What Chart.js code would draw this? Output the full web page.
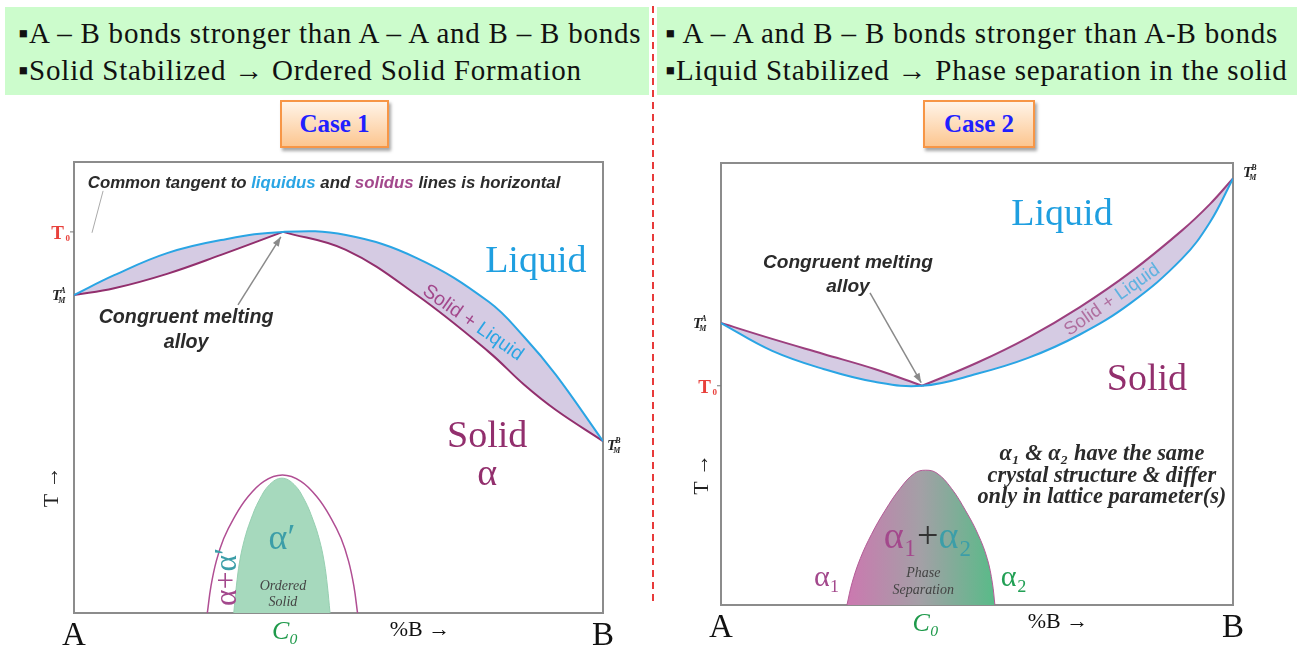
<!DOCTYPE html>
<html>
<head>
<meta charset="utf-8">
<script src="https://cdn.jsdelivr.net/npm/chart.js@4.4.1/dist/chart.umd.min.js"></script>
<style>
  body { margin: 0; background: #fff; font-family: "Liberation Serif", serif; }
  #page { position: relative; width: 1303px; height: 652px; overflow: hidden; }
  .band { position: absolute; top: 7px; height: 88px; background: #ccfccc; }
  .line { position: absolute; font-family: "Liberation Serif", serif; font-size: 29px; line-height: 29px; white-space: nowrap; color: #111; }
  .case { position: absolute; top: 100px; height: 44px; border: 2px solid #f79646; background: linear-gradient(#fff4e8, #fcc690);
          box-shadow: 2px 3px 3px rgba(0,0,0,.35); color: #2020ff; font-family: "Liberation Serif", serif;
          font-weight: bold; font-size: 25px; text-align: center; line-height: 44px; }
  .divider { position: absolute; left: 652px; top: 6px; width: 2px; height: 596px;
             background: repeating-linear-gradient(to bottom, #e83a3a 0 7px, transparent 7px 12px); }
  canvas { position: absolute; }
</style>
</head>
<body>
<div id="page">
  <div class="band" style="left:5px;width:644px"></div>
  <div class="band" style="left:657px;width:640px"></div>
  <div class="line" data-w="623" style="left:18px;top:19px">▪A – B bonds stronger than A – A and B – B bonds</div>
  <div class="line" data-w="564" style="left:18px;top:56px">▪Solid Stabilized → Ordered Solid Formation</div>
  <div class="line" data-w="613" style="left:665px;top:19px">▪ A – A and B – B bonds stronger than A-B bonds</div>
  <div class="line" data-w="623" style="left:665px;top:56px">▪Liquid Stabilized → Phase separation in the solid</div>
  <div class="divider"></div>
  <div class="case" style="left:280px;width:105px">Case 1</div>
  <div class="case" style="left:923px;width:108px">Case 2</div>
  <canvas id="c1" width="650" height="502" style="left:0;top:150px"></canvas>
  <canvas id="c2" width="648" height="502" style="left:655px;top:150px"></canvas>
</div>
<script>
// ---- case 1 : A-B bonds stronger, maximum in liquidus/solidus
const comp1 = [0, 7.6, 17.6, 27.8, 39.5, 51.4, 64.8, 78.4, 85.1, 91.1, 100];
const liquidus1 = [70.5, 74.9, 79.8, 82.7, 84.5, 83.8, 78.7, 69.0, 61.2, 52.8, 38.1];
const compL1 = [0, 7.6, 17.6, 27.8, 39.5];
const solidusL1 = [70.5, 72.0, 75.2, 79.4, 84.5];
const compR1 = [39.5, 51.4, 64.8, 78.4, 85.1, 91.1, 100];
const solidusR1 = [84.5, 80.5, 70.5, 57.9, 50.6, 45.0, 38.1];
const orderOuterX = [25.2, 25.9, 26.9, 28.3, 30.2, 32.7, 35.9, 39.4, 42.9, 46.1, 48.6, 50.5, 51.9, 52.9, 53.6];
const orderOuterT = [0, 6, 11.5, 16.5, 21, 25.5, 29.2, 30.6, 29.2, 25.5, 21, 16.5, 11.5, 6, 0];
const orderInnerX = [30.2, 30.7, 31.3, 32.2, 33.4, 35.0, 37.0, 39.3, 41.6, 43.6, 45.2, 46.4, 47.3, 47.9, 48.4];
const orderInnerT = [0, 6, 11.3, 16.2, 20.6, 25, 28.5, 29.9, 28.5, 25, 20.6, 16.2, 11.3, 6, 0];

// ---- case 2 : A-A, B-B bonds stronger, minimum + miscibility gap
const comp2 = [0, 10, 20, 30, 39.3, 50, 60, 70.1, 80, 90, 95.5, 100];
const lower2 = [63.8, 57.5, 53.4, 50.5, 49.6, 52.3, 55.9, 61.2, 68.3, 78.3, 86.6, 96.5];
const compL2 = [0, 10, 20, 30, 39.3];
const upperL2 = [63.8, 60.2, 56.8, 53.4, 49.6];
const compR2 = [39.3, 50, 60, 70.1, 80, 90, 95.5, 100];
const upperR2 = [49.6, 54.8, 60.5, 67.4, 75.3, 84.7, 90.7, 96.5];
const gapX = [24.6, 25.6, 27.2, 29.4, 32.0, 35.0, 37.8, 40.0, 42.2, 45.0, 47.8, 50.2, 52.0, 53.0, 53.5];
const gapT = [0, 5, 10.5, 16, 21.3, 26.4, 29.8, 30.5, 29.8, 26.4, 21.3, 16, 10.5, 5, 0];

// x axis ticks
const xTicks1 = [0, 39.9, 65.4, 100];
const xTicks2 = [0, 40.0, 65.8, 100];
const xTickLabels = ['A', 'C₀', '%B →', 'B'];

const SERIF = '"Liberation Serif", serif';
const SANS = '"Liberation Sans", sans-serif';
const BLUE = '#2aa5e4';
const PURPLE = '#922f6d';
const LAV = 'rgba(206,194,222,0.85)';
const INK = '#2b2b2b';

// stretch the header lines to the widths of the picture
document.querySelectorAll('.line').forEach(el => {
    const w = +el.dataset.w;
    const n = el.textContent.length;
    el.style.letterSpacing = ((w - el.scrollWidth) / n) + 'px';
});

function pts(xs, ys) { return xs.map((x, i) => ({ x: x, y: ys[i] })); }

function text(ctx, s, x, y, font, color, align) {
    ctx.font = font;
    ctx.fillStyle = color;
    ctx.textAlign = align || 'center';
    ctx.textBaseline = 'middle';
    ctx.fillText(s, x, y);
}

// pieces of text in different colours, font size chosen to fill "width"
function rich(ctx, parts, x, y, style, family, width, align) {
    ctx.font = style + ' 20px ' + family;
    const w20 = parts.reduce((s, p) => s + ctx.measureText(p[0]).width, 0);
    const size = 20 * width / w20;
    ctx.font = style + ' ' + size + 'px ' + family;
    let cx = align === 'left' ? x : x - width / 2;
    ctx.textAlign = 'left';
    ctx.textBaseline = 'middle';
    parts.forEach(p => {
        ctx.fillStyle = p[1];
        ctx.fillText(p[0], cx, y);
        cx += ctx.measureText(p[0]).width;
    });
    return size;
}

function arrow(ctx, a, b) {
    ctx.strokeStyle = '#8a8a8a';
    ctx.fillStyle = '#8a8a8a';
    ctx.lineWidth = 1.5;
    ctx.beginPath(); ctx.moveTo(a[0], a[1]); ctx.lineTo(b[0], b[1]); ctx.stroke();
    const ang = Math.atan2(b[1] - a[1], b[0] - a[0]);
    ctx.beginPath();
    ctx.moveTo(b[0], b[1]);
    ctx.lineTo(b[0] - 10 * Math.cos(ang - 0.35), b[1] - 10 * Math.sin(ang - 0.35));
    ctx.lineTo(b[0] - 10 * Math.cos(ang + 0.35), b[1] - 10 * Math.sin(ang + 0.35));
    ctx.closePath(); ctx.fill();
}

function tm(ctx, sup, x, y) {
    ctx.fillStyle = '#222';
    ctx.textAlign = 'left';
    ctx.textBaseline = 'alphabetic';
    ctx.font = 'italic bold 15px ' + SERIF;
    ctx.fillText('T', x, y + 5);
    const w = ctx.measureText('T').width;
    ctx.font = 'italic bold 8px ' + SERIF;
    ctx.fillText(sup, x + w - 1, y - 2);
    ctx.fillText('M', x + w - 3, y + 8);
}

function t0(ctx, x, y) {
    ctx.strokeStyle = '#777'; ctx.lineWidth = 1;
    ctx.beginPath(); ctx.moveTo(x, y); ctx.lineTo(x - 4, y); ctx.stroke();
    ctx.fillStyle = '#e8413c';
    ctx.textAlign = 'right'; ctx.textBaseline = 'alphabetic';
    ctx.font = 'bold 9px ' + SERIF;
    ctx.fillText('0', x - 4, y + 9);
    ctx.font = 'bold 19px ' + SERIF;
    ctx.fillText('T', x - 10, y + 7);
}

function tAxis(ctx, x, y) {
    ctx.save();
    ctx.translate(x, y);
    ctx.rotate(-Math.PI / 2);
    text(ctx, 'T →', 0, 0, '22px ' + SERIF, '#222');
    ctx.restore();
}

const notes = {
    id: 'notes',
    beforeDatasetsDraw(chart) {
        const a = chart.chartArea, ctx = chart.ctx;
        ctx.save();
        ctx.strokeStyle = '#8c8c8c';
        ctx.lineWidth = 2;
        ctx.strokeRect(a.left, a.top, a.right - a.left, a.bottom - a.top);
        ctx.restore();
    },
    afterDatasetsDraw(chart, args, opts) {
        const xs = chart.scales.x, ys = chart.scales.y, ctx = chart.ctx;
        const P = (x, y) => [xs.getPixelForValue(x), ys.getPixelForValue(y)];
        ctx.save();
        opts.draw(ctx, P, chart.chartArea);
        ctx.restore();
    }
};

function xAxis(ticks, pad) {
    return {
        type: 'linear', min: 0, max: 100,
        grid: { display: false }, border: { display: false },
        afterBuildTicks: axis => { axis.ticks = ticks.map(v => ({ value: v })); },
        afterFit: axis => { axis.height = pad; },
        ticks: {
            autoSkip: false, maxRotation: 0, padding: -4,
            callback: (v, i) => xTickLabels[i],
            color: c => ['#111', '#1f9a4b', '#111', '#111'][c.index],
            font: c => [
                { family: SERIF, size: 33 },
                { family: SERIF, size: 26, style: 'italic' },
                { family: SERIF, size: 22 },
                { family: SERIF, size: 33 }
            ][c.index]
        }
    };
}

function line(data, color, extra) {
    return Object.assign({
        data: data, borderColor: color, borderWidth: 2, pointRadius: 0,
        tension: 0.4, fill: false
    }, extra || {});
}

// ---------------- chart 1
new Chart(document.getElementById('c1'), {
    type: 'line',
    data: {
        datasets: [
            line(pts(comp1, liquidus1), BLUE),
            line(pts(compL1, solidusL1), PURPLE, { fill: '-1', backgroundColor: LAV }),
            line(pts(compR1, solidusR1), PURPLE, { fill: '-2', backgroundColor: LAV }),
            line(pts(orderOuterX, orderOuterT), '#b04e93', { borderWidth: 1.5 }),
            line(pts(orderInnerX, orderInnerT), '#96cfb1', { borderWidth: 1, fill: 'origin', backgroundColor: '#a6d9bd' })
        ]
    },
    options: {
        responsive: false, animation: false,
        layout: { padding: { left: 74, top: 12, right: 47, bottom: 0 } },
        scales: {
            x: xAxis(xTicks1, 39),
            y: { type: 'linear', min: 0, max: 100, display: false }
        },
        plugins: {
            legend: { display: false }, tooltip: { enabled: false },
            notes: {
                draw(ctx, P, area) {
                    let p = P(2.6, 95.3);
                    rich(ctx, [['Common tangent to ', INK], ['liquidus', BLUE], [' and ', INK], ['solidus', '#a3488c'],
                        [' lines is horizontal', INK]], p[0], p[1], 'italic bold', SANS, 473, 'left');
                    const a = P(5.5, 93.6), b = P(3.4, 84.3);
                    ctx.strokeStyle = '#aaa'; ctx.lineWidth = 1;
                    ctx.beginPath(); ctx.moveTo(a[0], a[1]); ctx.lineTo(b[0], b[1]); ctx.stroke();

                    p = P(0, liquidus1[4]); t0(ctx, area.left, p[1]);
                    p = P(0, liquidus1[0]); tm(ctx, 'A', area.left - 22, p[1]);
                    p = P(100, liquidus1[liquidus1.length - 1]); tm(ctx, 'B', area.right + 4, p[1] + 4);
                    p = P(0, 28); tAxis(ctx, area.left - 22, p[1]);

                    p = P(87.3, 77.8); text(ctx, 'Liquid', p[0], p[1], '38px ' + SERIF, '#1f9fe0');
                    p = P(75.4, 64.3);
                    ctx.save(); ctx.translate(p[0], p[1]); ctx.rotate(35 * Math.PI / 180);
                    rich(ctx, [['Solid + ', '#a3488c'], ['Liquid', BLUE]], 0, 0, '', SANS, 118, 'center');
                    ctx.restore();

                    const s = rich(ctx, [['Congruent melting', INK]], ...P(21.2, 65.4), 'italic bold', SANS, 175, 'center');
                    p = P(21.2, 59.9); text(ctx, 'alloy', p[0], p[1], 'italic bold ' + s + 'px ' + SANS, INK);
                    arrow(ctx, P(31, 68.3), P(39.1, 83.4));

                    p = P(78.1, 39.0); text(ctx, 'Solid', p[0], p[1], '38px ' + SERIF, PURPLE);
                    p = P(78.1, 30.6); text(ctx, 'α', p[0], p[1], '38px ' + SERIF, PURPLE);

                    p = P(39.3, 16.2); text(ctx, 'α′', p[0], p[1], '36px ' + SERIF, '#3c9ea8');
                    p = P(29.1, 8.0);
                    ctx.save(); ctx.translate(p[0], p[1]); ctx.rotate(-Math.PI / 2);
                    rich(ctx, [['α+', '#a3488c'], ['α′', '#3c9ea8']], 0, 0, '', SERIF, 58, 'center');
                    ctx.restore();
                    p = P(39.5, 6.0); text(ctx, 'Ordered', p[0], p[1], 'italic 14px ' + SERIF, '#444');
                    p = P(39.5, 2.4); text(ctx, 'Solid', p[0], p[1], 'italic 14px ' + SERIF, '#444');
                }
            }
        }
    },
    plugins: [notes]
});

// ---------------- chart 2
new Chart(document.getElementById('c2'), {
    type: 'line',
    data: {
        datasets: [
            line(pts(comp2, lower2), BLUE),
            line(pts(compL2, upperL2), '#9c3f7e', { fill: '-1', backgroundColor: LAV }),
            line(pts(compR2, upperR2), '#9c3f7e', { fill: '-2', backgroundColor: LAV }),
            line(pts(gapX, gapT), '#b45c97', {
                borderWidth: 1, fill: 'origin',
                backgroundColor: c => {
                    const ch = c.chart;
                    if (!ch.chartArea) return '#a0a0a0';
                    const x = ch.scales.x;
                    const g = ch.ctx.createLinearGradient(x.getPixelForValue(gapX[0]), 0, x.getPixelForValue(gapX[gapX.length - 1]), 0);
                    g.addColorStop(0, '#cc78b0');
                    g.addColorStop(0.5, '#a3a0a6');
                    g.addColorStop(1, '#58bb88');
                    return g;
                }
            })
        ]
    },
    options: {
        responsive: false, animation: false,
        layout: { padding: { left: 66, top: 13, right: 70, bottom: 0 } },
        scales: {
            x: xAxis(xTicks2, 47),
            y: { type: 'linear', min: 0, max: 100, display: false }
        },
        plugins: {
            legend: { display: false }, tooltip: { enabled: false },
            notes: {
                draw(ctx, P, area) {
                    let p = P(0, upperL2[4]); t0(ctx, area.left, p[1]);
                    p = P(0, upperL2[0]); tm(ctx, 'A', area.left - 28, p[1]);
                    p = P(100, upperR2[upperR2.length - 1]); tm(ctx, 'B', area.right + 10, p[1] - 6);
                    p = P(0, 29.6); tAxis(ctx, area.left - 19, p[1]);

                    p = P(66.6, 88.2); text(ctx, 'Liquid', p[0], p[1], '38px ' + SERIF, '#1f9fe0');
                    const s = rich(ctx, [['Congruent melting', INK]], ...P(24.8, 77.4), 'italic bold', SANS, 170, 'center');
                    p = P(24.8, 71.9); text(ctx, 'alloy', p[0], p[1], 'italic bold ' + s + 'px ' + SANS, INK);
                    arrow(ctx, P(29.1, 70.6), P(39.1, 50.3));

                    p = P(76.4, 69.0);
                    ctx.save(); ctx.translate(p[0], p[1]); ctx.rotate(-35 * Math.PI / 180);
                    rich(ctx, [['Solid + ', '#b070a0'], ['Liquid', '#5fb2e0']], 0, 0, '', SANS, 112, 'center');
                    ctx.restore();
                    p = P(83.2, 50.9); text(ctx, 'Solid', p[0], p[1], '38px ' + SERIF, PURPLE);

                    const q = P(74.4, 24.4);
                    const fs = rich(ctx, [['only in lattice parameter(s)', INK]], q[0], q[1], 'italic bold', SERIF, 249, 'center');
                    const f = 'italic bold ' + fs + 'px ' + SERIF;
                    p = P(74.4, 29.2); text(ctx, 'crystal structure & differ', p[0], p[1], f, INK);
                    p = P(74.4, 34.2); text(ctx, 'α₁ & α₂ have the same', p[0], p[1], f, INK);

                    p = P(40.4, 15.2);
                    rich(ctx, [['α₁', '#a3488c'], ['+', '#333'], ['α₂', '#3c9ea8']], p[0], p[1], '', SERIF, 88, 'center');
                    p = P(39.5, 7.2); text(ctx, 'Phase', p[0], p[1], 'italic 14px ' + SERIF, '#444');
                    p = P(39.5, 3.4); text(ctx, 'Separation', p[0], p[1], 'italic 14px ' + SERIF, '#444');
                    p = P(20.7, 6.1); text(ctx, 'α₁', p[0], p[1], '30px ' + SERIF, '#a3488c');
                    p = P(57.2, 6.1); text(ctx, 'α₂', p[0], p[1], '30px ' + SERIF, '#22a055');
                }
            }
        }
    },
    plugins: [notes]
});
</script>
</body>
</html>
